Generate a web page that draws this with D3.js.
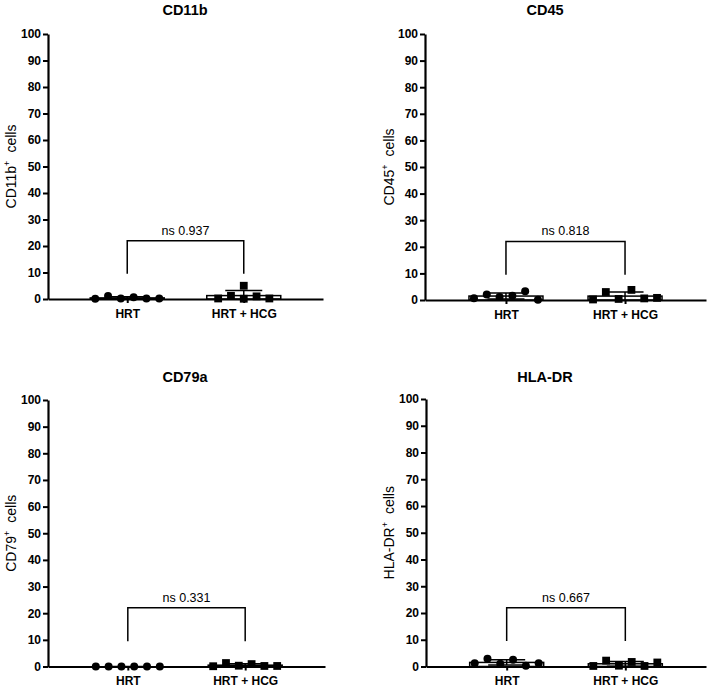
<!DOCTYPE html>
<html><head><meta charset="utf-8">
<script src="https://cdn.jsdelivr.net/npm/d3@7"></script>
<style>
body{margin:0;background:#fff}
svg{display:block}
text{font-family:Arial,"Liberation Sans",sans-serif;fill:#000}
</style></head>
<body><svg id="c" width="708" height="689"></svg>
<script>
// ---------- data ----------
const panelTitles = ["CD11b", "CD45", "CD79a", "HLA-DR"];
const yLabelMarkers = ["CD11b", "CD45", "CD79", "HLA-DR"];
const categories = ["HRT", "HRT + HCG"];
const yTickValues = [0, 10, 20, 30, 40, 50, 60, 70, 80, 90, 100];
const pValueLabels = ["ns 0.937", "ns 0.818", "ns 0.331", "ns 0.667"];
const bracketLegLow = 9.5;
const bracketTop = 22;

const cd11bHRT = [0.1, 1.1, 0.2, 0.7, 0.2, 0.2];
const cd11bHCG = [0.2, 1.2, 5.0, 0.1, 1.0, 0.2];
const cd45HRT  = [0.7, 2.1, 1.1, 1.6, 3.3, 0.1];
const cd45HCG  = [0.2, 3.0, 0.4, 3.8, 0.6, 0.8];
const cd79HRT  = [0, 0, 0, 0, 0, 0];
const cd79HCG  = [0.1, 1.3, 0.3, 0.9, 0.2, 0.2];
const hladrHRT = [1.25, 2.9, 1.0, 2.5, 0.25, 1.25];
const hladrHCG = [0.2, 2.2, 0.3, 1.7, 0.2, 1.5];

const panelSeries = [
  [cd11bHRT, cd11bHCG],
  [cd45HRT, cd45HCG],
  [cd79HRT, cd79HCG],
  [hladrHRT, hladrHCG]
];

// ---------- layout ----------
const layout = [
  {x0: 48,  x1: 323, yTop: 34,  yBot: 299,   titleX: 185, titleY: 15,  labelX: 16},
  {x0: 425, x1: 706, yTop: 34,  yBot: 300,   titleX: 545, titleY: 15,  labelX: 394},
  {x0: 48,  x1: 325, yTop: 400, yBot: 666.5, titleX: 185, titleY: 382, labelX: 16},
  {x0: 426, x1: 706, yTop: 399, yBot: 666.5, titleX: 545, titleY: 382, labelX: 394}
];

const svg = d3.select("#c");
const boxW = 74, capW = 37, spacing = 12.8, collide = 7;

function spread(vals, y) {
  const order = vals.map((v, i) => i).sort((a, b) => vals[a] - vals[b]);
  const off = new Array(vals.length).fill(0);
  let clusters = [], cur = [order[0]];
  for (let k = 1; k < order.length; k++) {
    if (y(vals[order[k - 1]]) - y(vals[order[k]]) < collide) cur.push(order[k]);
    else { clusters.push(cur); cur = [order[k]]; }
  }
  clusters.push(cur);
  clusters.forEach(c => {
    c.sort((a, b) => a - b);
    c.forEach((idx, j) => off[idx] = (j - (c.length - 1) / 2) * spacing);
  });
  return off;
}

layout.forEach((L, p) => {
  const g = svg.append("g");
  const x = d3.scalePoint().domain(categories).range([L.x0, L.x1]).padding(0.68);
  const y = d3.scaleLinear().domain([0, 100]).range([L.yBot, L.yTop]);

  // title
  g.append("text").attr("x", L.titleX).attr("y", L.titleY)
    .attr("text-anchor", "middle").style("font-weight", "bold").style("font-size", "14.5px")
    .text(panelTitles[p]);

  // y label
  const yl = g.append("text")
    .attr("transform", `translate(${L.labelX},${(L.yTop + L.yBot) / 2}) rotate(-90)`)
    .attr("text-anchor", "middle").style("font-size", "14px");
  yl.append("tspan").text(yLabelMarkers[p]);
  yl.append("tspan").attr("dy", -6).style("font-size", "9px").text("+");
  yl.append("tspan").attr("dy", 6).attr("dx", 8).text("cells");

  // bars (mean) + stats
  const stats = panelSeries[p].map(v => ({mean: d3.mean(v), sd: d3.deviation(v)}));
  stats.forEach((s, i) => {
    const cx = x(categories[i]);
    g.append("rect").attr("x", cx - boxW / 2).attr("y", y(s.mean))
      .attr("width", boxW).attr("height", y(0) - y(s.mean))
      .attr("fill", "#fff").attr("stroke", "#000").attr("stroke-width", 1.5);
  });

  // axes
  const ya = g.append("g").attr("transform", `translate(${L.x0},0)`)
    .call(d3.axisLeft(y).tickValues(yTickValues).tickSize(5).tickSizeOuter(0).tickPadding(2));
  ya.select(".domain").attr("stroke-width", 2.2);
  ya.selectAll(".tick line").attr("stroke-width", 2);
  ya.selectAll(".tick text").style("font-size", "12px").style("font-weight", "bold")
    .style("font-family", "Arial, 'Liberation Sans', sans-serif");

  const xa = g.append("g").attr("transform", `translate(0,${L.yBot})`)
    .call(d3.axisBottom(x).tickSize(4).tickSizeOuter(0).tickPadding(6));
  xa.select(".domain").attr("stroke-width", 2.2);
  xa.selectAll(".tick line").attr("stroke-width", 2);
  xa.selectAll(".tick text").style("font-size", "12px").style("font-weight", "bold")
    .style("font-family", "Arial, 'Liberation Sans', sans-serif");

  // points
  panelSeries[p].forEach((vals, i) => {
    const cx = x(categories[i]);
    const off = spread(vals, y);
    vals.forEach((v, k) => {
      if (i === 0) {
        g.append("circle").attr("cx", cx + off[k]).attr("cy", y(v)).attr("r", 4).attr("fill", "#000");
      } else {
        g.append("rect").attr("x", cx + off[k] - 3.9).attr("y", y(v) - 3.9)
          .attr("width", 7.8).attr("height", 7.8).attr("fill", "#000");
      }
    });
  });

  // error bars
  stats.forEach((s, i) => {
    const cx = x(categories[i]);
    const lo = Math.max(0, s.mean - s.sd), hi = s.mean + s.sd;
    g.append("line").attr("x1", cx).attr("x2", cx).attr("y1", y(lo)).attr("y2", y(hi))
      .attr("stroke", "#000").attr("stroke-width", 1.5);
    g.append("line").attr("x1", cx - capW / 2).attr("x2", cx + capW / 2).attr("y1", y(hi)).attr("y2", y(hi))
      .attr("stroke", "#000").attr("stroke-width", 1.5);
    if (s.mean - s.sd > 0) {
      g.append("line").attr("x1", cx - capW / 2).attr("x2", cx + capW / 2).attr("y1", y(lo)).attr("y2", y(lo))
        .attr("stroke", "#000").attr("stroke-width", 1.5);
    }
  });

  // significance bracket
  const xa0 = x(categories[0]), xa1 = x(categories[1]);
  g.append("path")
    .attr("d", `M${xa0},${y(bracketLegLow)}V${y(bracketTop)}H${xa1}V${y(bracketLegLow)}`)
    .attr("fill", "none").attr("stroke", "#000").attr("stroke-width", 1.5);
  g.append("text").attr("x", (xa0 + xa1) / 2).attr("y", y(bracketTop) - 6)
    .attr("text-anchor", "middle").style("font-size", "12.5px").text(pValueLabels[p]);
});
</script>
</body></html>
